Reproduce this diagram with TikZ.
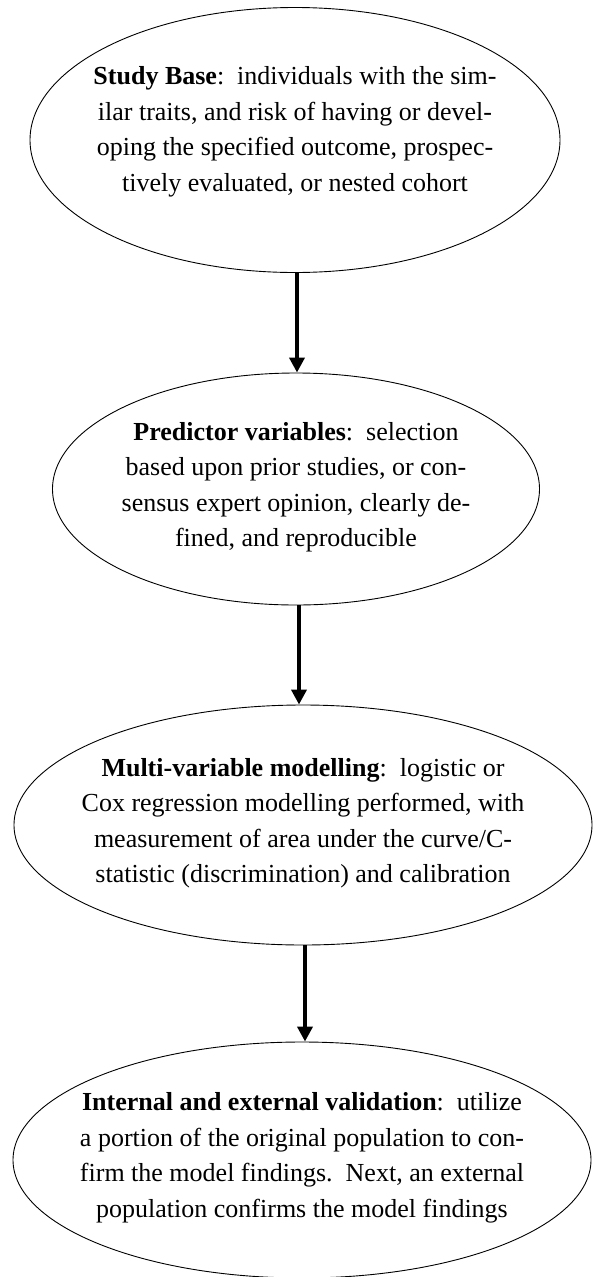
\documentclass[tikz,border=0pt]{standalone}
\usepackage{fontspec}
\setmainfont{Liberation Serif}
\usetikzlibrary{shapes.geometric,arrows.meta}
\begin{document}
\begin{tikzpicture}[x=1pt,y=-1pt,
		elipse/.style={draw, ellipse, line width=0.9pt, inner sep=0pt},
		texto/.style={inner sep=0pt, align=center, font=\fontsize{26}{35.5}\selectfont},
		seta/.style={line width=4pt, -{Triangle[length=15pt,width=15pt]}}]
	\useasboundingbox (0,0) rectangle (592,1277);
	
	%	elipses
	\node[elipse, minimum width=530pt, minimum height=265pt] (base) at (295,140) {};
	\node[elipse, minimum width=487pt, minimum height=232pt] (pred) at (296,489) {};
	\node[elipse, minimum width=578pt, minimum height=240pt] (multi) at (303,825) {};
	\node[elipse, minimum width=578pt, minimum height=236pt] (valid) at (302,1160) {};
	
	%	textos
	\node[texto] (basetxt) at ([yshift=8pt]base.center)
		{\textbf{Study Base}:\ \ individuals with the sim-\\ilar traits, and risk of having or devel-\\oping the specified outcome, prospec-\\tively evaluated, or nested cohort};
	\node[texto] (predtxt) at ([yshift=2pt]pred.center)
		{\textbf{Predictor variables}:\ \ selection\\based upon prior studies, or con-\\sensus expert opinion, clearly de-\\fined, and reproducible};
	\node[texto] (multitxt) at ([yshift=2pt]multi.center)
		{\textbf{Multi-variable modelling}:\ \ logistic or\\Cox regression modelling performed, with\\measurement of area under the curve/C-\\statistic (discrimination) and calibration};
	\node[texto] (validtxt) at ([yshift=2pt]valid.center)
		{\textbf{Internal and external validation}:\ \ utilize\\a portion of the original population to con-\\firm the model findings.\ \ Next, an external\\population confirms the model findings};
	
	%	setas
	\draw[seta] ([xshift=2pt]base.south) -- ([xshift=2pt]base.south |- pred.north);
	\draw[seta] ([xshift=3pt]pred.south) -- ([xshift=3pt]pred.south |- multi.north);
	\draw[seta] ([xshift=2pt]multi.south) -- ([xshift=2pt]multi.south |- valid.north);
\end{tikzpicture}
\end{document}
